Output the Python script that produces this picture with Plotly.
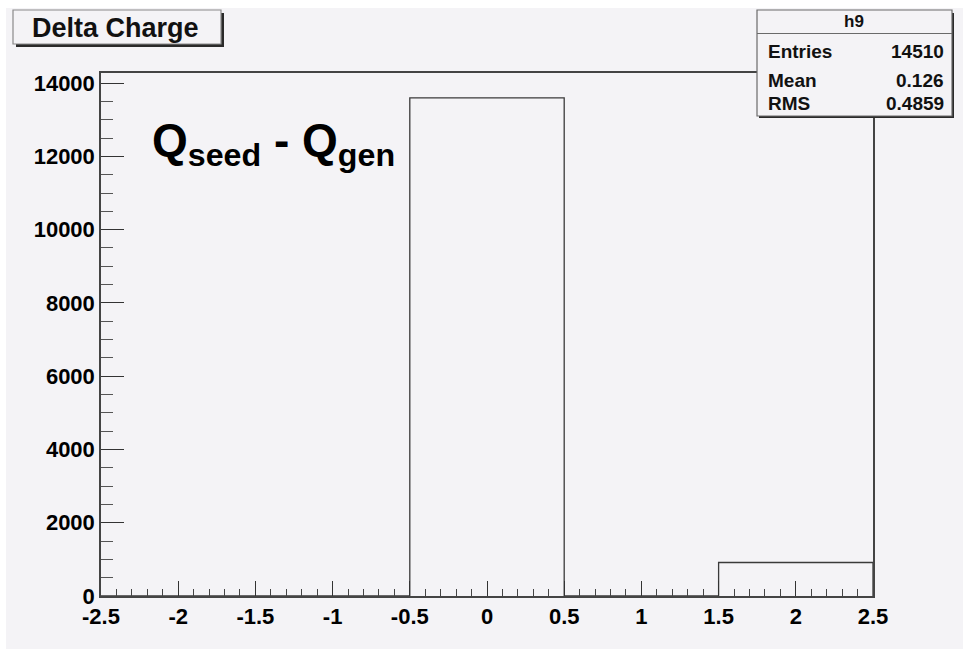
import plotly.graph_objects as go

# Histogram "h9": charge difference between seed and generated track
bin_edges = [-2.5, -1.5, -0.5, 0.5, 1.5, 2.5]
bin_counts = [0, 0, 13596, 0, 914]

hist_name = "h9"
hist_title = "Delta Charge"
stats_labels = ["Entries", "Mean", "RMS"]
stats_values = ["14510", "0.126", "0.4859"]

x_ticks = [-2.5, -2, -1.5, -1, -0.5, 0, 0.5, 1, 1.5, 2, 2.5]
x_ticktext = ["-2.5", "-2", "-1.5", "-1", "-0.5", "0", "0.5", "1", "1.5", "2", "2.5"]
y_ticks = [0, 2000, 4000, 6000, 8000, 10000, 12000, 14000]
y_ticktext = ["0", "2000", "4000", "6000", "8000", "10000", "12000", "14000"]

W, H = 963, 649
L, R, T, B = 101, 90, 73, 53
PW, PH = W - L - R, H - T - B

BG = "#f4f3f6"
FONT = "Liberation Sans"


def px(xp):
    return (xp - L) / PW


def py(yp):
    return (H - B - yp) / PH


# step outline of the histogram, closed down to zero at the last edge
step_x = list(bin_edges)
step_y = list(bin_counts) + [0]

fig = go.Figure()
fig.add_trace(go.Scatter(
    x=step_x, y=step_y, mode="lines", line_shape="hv",
    line=dict(color="#3a3a3a", width=1.3), hoverinfo="skip",
    showlegend=False, cliponaxis=False,
))

shapes = []
# thin white border of the canvas on the left and top
shapes.append(dict(type="rect", xref="paper", yref="paper", layer="below",
                   x0=px(-5), x1=px(6), y0=py(H + 5), y1=py(-5),
                   fillcolor="white", line=dict(width=0)))
shapes.append(dict(type="rect", xref="paper", yref="paper", layer="below",
                   x0=px(-5), x1=px(W + 5), y0=py(8), y1=py(-5),
                   fillcolor="white", line=dict(width=0)))

# title box with drop shadow
shapes.append(dict(type="rect", xref="paper", yref="paper",
                   x0=px(16), x1=px(224), y0=py(47), y1=py(13),
                   fillcolor="#2a2a2a", line=dict(width=0)))
shapes.append(dict(type="rect", xref="paper", yref="paper",
                   x0=px(13), x1=px(221), y0=py(44), y1=py(10),
                   fillcolor=BG, line=dict(color="#8a8a8a", width=1.2)))

# statistics box with drop shadow
shapes.append(dict(type="rect", xref="paper", yref="paper",
                   x0=px(759), x1=px(954), y0=py(118), y1=py(13),
                   fillcolor="#2a2a2a", line=dict(width=0)))
shapes.append(dict(type="rect", xref="paper", yref="paper",
                   x0=px(757), x1=px(952), y0=py(116), y1=py(10),
                   fillcolor=BG, line=dict(color="#6a6a6a", width=1.2)))
shapes.append(dict(type="line", xref="paper", yref="paper",
                   x0=px(757), x1=px(952), y0=py(33.5), y1=py(33.5),
                   line=dict(color="#6a6a6a", width=1.2)))

annotations = []
annotations.append(dict(xref="paper", yref="paper", x=px(30), y=py(27.5),
                        xanchor="left", yanchor="middle", showarrow=False,
                        text=hist_title,
                        font=dict(family=FONT, size=27, color="#111", weight="bold")))
annotations.append(dict(xref="paper", yref="paper", x=px(854), y=py(22),
                        xanchor="center", yanchor="middle", showarrow=False,
                        text=hist_name,
                        font=dict(family=FONT, size=17, color="#111", weight="bold")))
stat_rows = [52, 80, 103]
for lab, val, yr in zip(stats_labels, stats_values, stat_rows):
    annotations.append(dict(xref="paper", yref="paper", x=px(766), y=py(yr),
                            xanchor="left", yanchor="middle", showarrow=False,
                            text=lab,
                            font=dict(family=FONT, size=19, color="#111", weight="bold")))
    annotations.append(dict(xref="paper", yref="paper", x=px(946), y=py(yr),
                            xanchor="right", yanchor="middle", showarrow=False,
                            text=val,
                            font=dict(family=FONT, size=19, color="#111", weight="bold")))

annotations.append(dict(xref="paper", yref="paper", x=px(150), y=py(112),
                        xanchor="left", yanchor="top", showarrow=False,
                        text="Q<sub>seed</sub> - Q<sub>gen</sub>",
                        font=dict(family=FONT, size=46, color="black", weight="bold")))

tickfont = dict(family=FONT, size=22, color="black", weight="bold")

fig.update_layout(
    width=W, height=H,
    margin=dict(l=L, r=R, t=T, b=B, pad=0),
    paper_bgcolor=BG, plot_bgcolor="rgba(0,0,0,0)",
    shapes=shapes, annotations=annotations, showlegend=False,
    xaxis=dict(
        range=[bin_edges[0], bin_edges[-1]], tickvals=x_ticks, ticktext=x_ticktext,
        ticks="inside", ticklen=15, tickwidth=1.3, tickcolor="#333",
        minor=dict(ticks="inside", ticklen=7, dtick=0.1, tick0=-2.5,
                   tickcolor="#444", tickwidth=1),
        showgrid=False, zeroline=False,
        showline=True, linecolor="#444", linewidth=1.5, mirror=True,
        tickfont=tickfont,
    ),
    yaxis=dict(
        range=[0, 1.05 * max(bin_counts)], tickvals=y_ticks, ticktext=y_ticktext,
        ticks="inside", ticklen=23, tickwidth=1.3, tickcolor="#333",
        minor=dict(ticks="inside", ticklen=12, dtick=500, tick0=0,
                   tickcolor="#555", tickwidth=1),
        showgrid=False, zeroline=False,
        showline=True, linecolor="#444", linewidth=1.5, mirror=True,
        tickfont=tickfont,
    ),
)

fig.write_html("out.html")
